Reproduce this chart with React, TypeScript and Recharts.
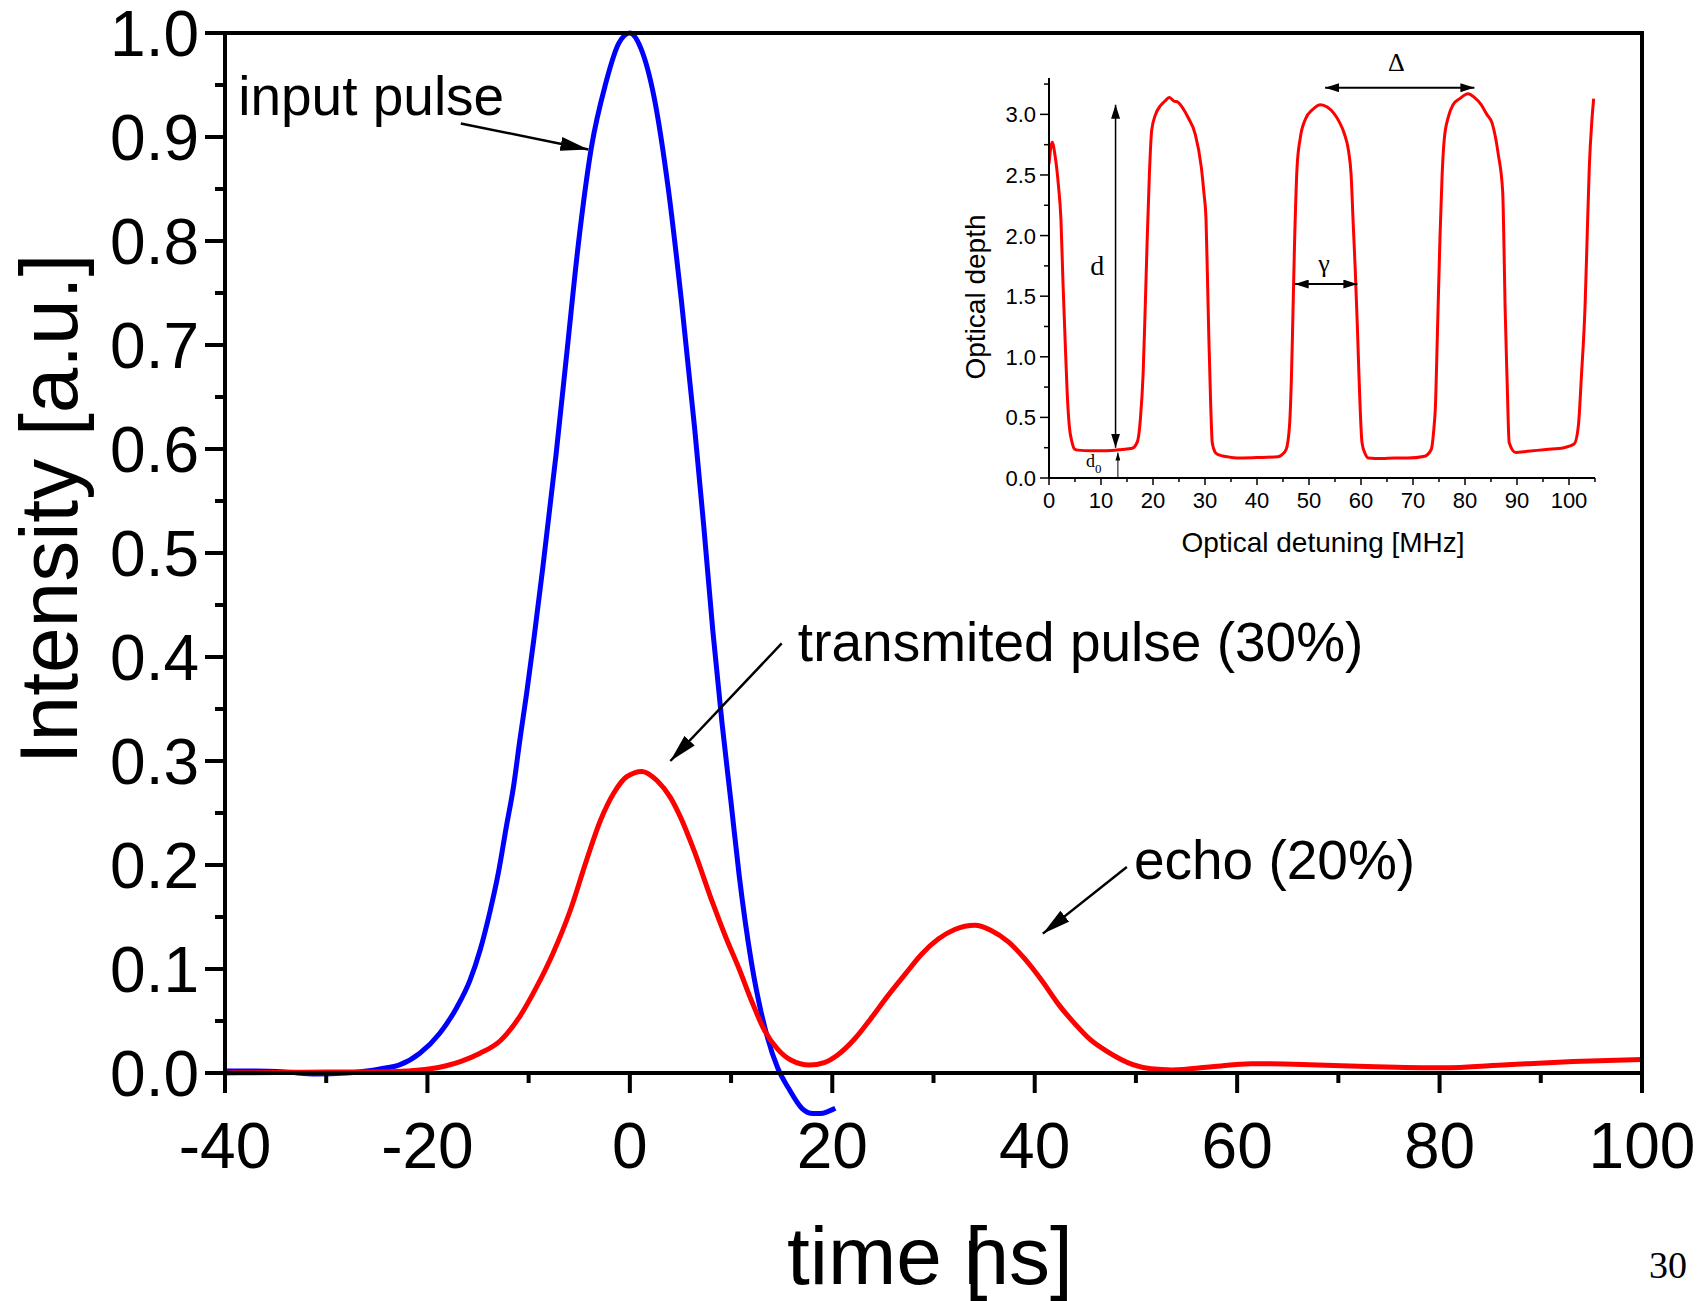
import React from 'react';
import { LineChart, Line, XAxis, YAxis, ReferenceLine, ReferenceDot } from 'recharts';

const SANS = '"Liberation Sans", Arial, sans-serif';
const SERIF = '"Liberation Serif", "Times New Roman", serif';

// main plot: [time ns, intensity]
const inputPulse: [number, number][] = [
  [-40, 0.002], [-37, 0.002], [-34, 0.001], [-31, -0.001], [-28, 0.0], [-26, 0.002],
  [-24.7, 0.004], [-22.7, 0.008], [-20.75, 0.019], [-18.8, 0.038], [-17.1, 0.063], [-15.8, 0.089],
  [-14.8, 0.118], [-13.8, 0.156], [-13.0, 0.192], [-12.2, 0.237], [-11.5, 0.275], [-10.87, 0.32],
  [-10.2, 0.365], [-9.5, 0.416], [-8.6, 0.486], [-7.3, 0.594], [-6.2, 0.695], [-5.1, 0.796],
  [-3.8, 0.89], [-2.4, 0.951], [-1.1, 0.99], [0, 1.0], [1.1, 0.985], [2.4, 0.938],
  [3.8, 0.85], [5.1, 0.742], [6.4, 0.62], [7.3, 0.526], [8.2, 0.425], [9.1, 0.337],
  [10, 0.26], [10.8, 0.19], [12.0, 0.107], [13.6, 0.034], [14.6, 0.005], [15.7, -0.015],
  [17, -0.034], [18.1, -0.039], [18.8, -0.039], [19.6, -0.037], [20.3, -0.034],
];

const transmitted: [number, number][] = [
  [-40, 0.0], [-35, 0.0005], [-30, 0.001], [-25, 0.001], [-22, 0.002], [-19.7, 0.004],
  [-16.75, 0.011], [-14.8, 0.019], [-12.8, 0.031], [-10.9, 0.054], [-9.2, 0.083], [-7.6, 0.115],
  [-5.9, 0.156], [-4.3, 0.204], [-2.9, 0.243], [-1.6, 0.269], [-0.3, 0.285], [1.2, 0.29],
  [2.7, 0.281], [4.0, 0.265], [5.0, 0.246], [6.3, 0.215], [8.2, 0.163], [9.5, 0.13],
  [10.8, 0.1], [12.0, 0.07], [13.3, 0.041], [14.6, 0.023], [15.9, 0.0125], [17.75, 0.0077],
  [19.2, 0.01], [20.56, 0.0176], [22.2, 0.0327], [23.9, 0.0535], [25.5, 0.0744], [27.2, 0.095],
  [28.8, 0.114], [30.5, 0.129], [32.1, 0.138], [34.1, 0.142], [35.7, 0.137], [37.4, 0.126],
  [39.0, 0.11], [40.7, 0.089], [42.35, 0.066], [44.0, 0.047], [45.5, 0.032], [47.1, 0.021],
  [49.7, 0.008], [51.5, 0.004], [53.6, 0.003], [57.5, 0.006], [61.4, 0.009], [67.2, 0.008],
  [73.7, 0.006], [80.2, 0.005], [86.7, 0.008], [93.2, 0.011], [100, 0.013],
];

// inset: [detuning MHz, optical depth]
const opticalDepth: [number, number][] = [
  [0, 2.59], [0.6, 2.77], [1.2, 2.65], [1.8, 2.42], [2.3, 2.13], [2.7, 1.6], [3.1, 1.14],
  [3.5, 0.7], [3.9, 0.43], [4.4, 0.3], [4.9, 0.24], [5.6, 0.23], [8, 0.225], [11, 0.225],
  [14, 0.235], [16, 0.245], [17, 0.3], [17.6, 0.5], [18.1, 0.86], [18.5, 1.4], [18.9, 1.99],
  [19.3, 2.5], [19.75, 2.87], [20.5, 3.0], [21.4, 3.07], [22.3, 3.11], [23.1, 3.14],
  [24, 3.11], [24.8, 3.1], [25.6, 3.06], [26.8, 2.97], [28.1, 2.84], [29.3, 2.56],
  [29.8, 2.35], [30.2, 2.13], [30.5, 1.6], [30.75, 1.14], [31.1, 0.6], [31.4, 0.29],
  [32, 0.21], [32.7, 0.19], [35, 0.17], [37.25, 0.165], [41, 0.17], [44, 0.175],
  [44.75, 0.19], [45.6, 0.235], [46.25, 0.43], [46.6, 0.8], [46.8, 1.14], [47.2, 1.9],
  [47.7, 2.56], [48.3, 2.8], [49.3, 2.96], [50.7, 3.04], [52.25, 3.08], [53.5, 3.06],
  [54.75, 3.01], [55.8, 2.94], [56.8, 2.84], [57.6, 2.7], [58.1, 2.5], [58.5, 2.1],
  [58.9, 1.71], [59.3, 1.25], [59.6, 0.86], [60.2, 0.29], [60.8, 0.2], [61.4, 0.165],
  [64, 0.16], [66.4, 0.165], [69, 0.165], [72.25, 0.18], [73.5, 0.235], [74, 0.4],
  [74.3, 0.58], [74.7, 1.2], [75.2, 2.0], [75.6, 2.5], [76, 2.79], [76.8, 2.98],
  [77.7, 3.08], [79, 3.13], [80.6, 3.17], [81.8, 3.14], [83.1, 3.08], [84.2, 3.0],
  [85.2, 2.93], [86.4, 2.67], [87.25, 2.36], [87.5, 1.9], [87.7, 1.43], [88.1, 0.8],
  [88.5, 0.29], [89.75, 0.21], [92, 0.22], [95.6, 0.235], [99, 0.25], [101, 0.28],
  [101.8, 0.43], [102.4, 0.85], [103.1, 1.43], [103.5, 2.0], [103.9, 2.56], [104.4, 2.95],
  [104.75, 3.13],
];

const mainXTicks = [-40, -30, -20, -10, 0, 10, 20, 30, 40, 50, 60, 70, 80, 90, 100];
const mainXLabels = [-40, -20, 0, 20, 40, 60, 80, 100];
const mainYTicks = [0, 0.05, 0.1, 0.15, 0.2, 0.25, 0.3, 0.35, 0.4, 0.45, 0.5, 0.55, 0.6, 0.65, 0.7, 0.75, 0.8, 0.85, 0.9, 0.95, 1.0];
const insetXTicks = [0, 5, 10, 15, 20, 25, 30, 35, 40, 45, 50, 55, 60, 65, 70, 75, 80, 85, 90, 95, 100, 105];
const insetYTicks = [0, 0.25, 0.5, 0.75, 1.0, 1.25, 1.5, 1.75, 2.0, 2.25, 2.5, 2.75, 3.0, 3.25];

const toRows = (pts: [number, number][]) => pts.map(([t, v]) => ({ t, v }));
const isMajorY = (v: number, step: number) => Math.abs(v / step - Math.round(v / step)) < 1e-6;

function MainBottomTick({ x, y, payload }: any) {
  const major = mainXLabels.includes(payload.value);
  return (
    <g>
      <line x1={x} x2={x} y1={y} y2={y + (major ? 20 : 10)} stroke="#000" strokeWidth={4} />
      {major && (
        <text x={x} y={y + 95} textAnchor="middle" fontSize={64} fontFamily={SANS} fill="#000">
          {payload.value}
        </text>
      )}
    </g>
  );
}

function MainTopTick({ x, y, payload }: any) {
  const major = mainXLabels.includes(payload.value);
  return <line x1={x} x2={x} y1={y} y2={y + (major ? 20 : 10)} stroke="#000" strokeWidth={4} />;
}

function MainLeftTick({ x, y, payload }: any) {
  const major = isMajorY(payload.value, 0.1);
  return (
    <g>
      <line x1={x - (major ? 20 : 10)} x2={x} y1={y} y2={y} stroke="#000" strokeWidth={4} />
      {major && (
        <text x={x - 26} y={y + 23} textAnchor="end" fontSize={64} fontFamily={SANS} fill="#000">
          {payload.value.toFixed(1)}
        </text>
      )}
    </g>
  );
}

function InsetBottomTick({ x, y, payload }: any) {
  const major = payload.value % 10 === 0;
  return (
    <g>
      <line x1={x} x2={x} y1={y} y2={y + (major ? 7 : 4)} stroke="#000" strokeWidth={1.5} />
      {major && (
        <text x={x} y={y + 30} textAnchor="middle" fontSize={22} fontFamily={SANS} fill="#000">
          {payload.value}
        </text>
      )}
    </g>
  );
}

function InsetLeftTick({ x, y, payload }: any) {
  const major = isMajorY(payload.value, 0.5);
  return (
    <g>
      <line x1={x - (major ? 9 : 5)} x2={x} y1={y} y2={y} stroke="#000" strokeWidth={1.5} />
      {major && (
        <text x={x - 13} y={y + 8} textAnchor="end" fontSize={22} fontFamily={SANS} fill="#000">
          {payload.value.toFixed(1)}
        </text>
      )}
    </g>
  );
}

const note = (text: React.ReactNode, size: number, anchor = 'start', family = SANS) => (p: any) => (
  <text x={p.cx} y={p.cy} fontSize={size} fontFamily={family} textAnchor={anchor} fill="#000">
    {text}
  </text>
);

const arrow = (marker: string, width: number, both = false) => (p: any) => (
  <line
    x1={p.x1}
    y1={p.y1}
    x2={p.x2}
    y2={p.y2}
    stroke="#000"
    strokeWidth={width}
    markerEnd={`url(#${marker})`}
    markerStart={both ? `url(#${marker})` : undefined}
  />
);

function Marker({ id, w, h }: { id: string; w: number; h: number }) {
  return (
    <marker id={id} viewBox="0 0 10 10" refX={10} refY={5} markerWidth={w} markerHeight={h}
      markerUnits="userSpaceOnUse" orient="auto-start-reverse" preserveAspectRatio="none">
      <path d="M0,0 L10,5 L0,10 z" fill="#000" />
    </marker>
  );
}

const frame = { stroke: '#000', strokeWidth: 4, strokeLinecap: 'square' as const };

export default function App() {
  return (
    <div style={{ position: 'absolute', left: 0, top: 0, width: 1707, height: 1301, background: '#fff', overflow: 'hidden' }}>
      <style>{'.main-chart .recharts-line, .main-chart .recharts-line * { clip-path: none !important; }'}</style>
      <svg width={0} height={0} style={{ position: 'absolute' }}>
        <defs>
          <Marker id="ahMain" w={28} h={14} />
          <Marker id="ahInset" w={14} h={9} />
          <Marker id="ahSmall" w={8} h={5} />
        </defs>
      </svg>

      <div className="main-chart" style={{ position: 'absolute', left: 0, top: 0 }}>
        <LineChart width={1707} height={1301} margin={{ top: 0, right: 0, bottom: 0, left: 0 }}>
          <XAxis xAxisId="b" type="number" dataKey="t" domain={[-40, 100]} ticks={mainXTicks} interval={0}
            allowDataOverflow height={228} tickSize={0} tickMargin={0} tickLine={false}
            tick={(p: any) => <MainBottomTick {...p} />} axisLine={frame}
            label={() => (
              <text x={787} y={1284} fontSize={82} fontFamily={SANS} fill="#000">
                time [<tspan dx={-24}>ns]</tspan>
              </text>
            )} />
          <XAxis xAxisId="top" orientation="top" type="number" domain={[-40, 100]} ticks={mainXTicks} interval={0}
            allowDataOverflow height={33} tickSize={0} tickMargin={0} tickLine={false}
            tick={(p: any) => <MainTopTick {...p} />} axisLine={frame} />
          <YAxis yAxisId="l" type="number" domain={[0, 1]} ticks={mainYTicks} interval={0}
            allowDataOverflow width={225} tickSize={0} tickMargin={0} tickLine={false}
            tick={(p: any) => <MainLeftTick {...p} />} axisLine={frame}
            label={() => (
              <text transform="translate(77, 509) rotate(-90)" textAnchor="middle" fontSize={82} fontFamily={SANS} fill="#000">
                Intensity [a.u.]
              </text>
            )} />
          <YAxis yAxisId="r" orientation="right" type="number" domain={[0, 1]} allowDataOverflow width={65}
            tick={false} tickLine={false} axisLine={frame} />

          <Line xAxisId="b" yAxisId="l" data={toRows(inputPulse)} dataKey="v" type="monotone"
            stroke="#0000ff" strokeWidth={5} dot={false} isAnimationActive={false} />
          <Line xAxisId="b" yAxisId="l" data={toRows(transmitted)} dataKey="v" type="monotone"
            stroke="#ff0000" strokeWidth={5} dot={false} isAnimationActive={false} />

          <ReferenceLine xAxisId="b" yAxisId="l" segment={[{ x: -16.7, y: 0.913 }, { x: -4.1, y: 0.888 }]}
            ifOverflow="visible" shape={arrow('ahMain', 2.5)} />
          <ReferenceLine xAxisId="b" yAxisId="l" segment={[{ x: 15.0, y: 0.413 }, { x: 4.0, y: 0.3 }]}
            ifOverflow="visible" shape={arrow('ahMain', 2.5)} />
          <ReferenceLine xAxisId="b" yAxisId="l" segment={[{ x: 49.1, y: 0.198 }, { x: 40.8, y: 0.134 }]}
            ifOverflow="visible" shape={arrow('ahMain', 2.5)} />
          <ReferenceDot xAxisId="b" yAxisId="l" x={-38.7} y={0.921} ifOverflow="visible" shape={note('input pulse', 55)} />
          <ReferenceDot xAxisId="b" yAxisId="l" x={16.6} y={0.396} ifOverflow="visible" shape={note('transmited pulse (30%)', 55)} />
          <ReferenceDot xAxisId="b" yAxisId="l" x={49.8} y={0.187} ifOverflow="visible" shape={note('echo (20%)', 55)} />
        </LineChart>
      </div>

      <div style={{ position: 'absolute', left: 860, top: 40 }}>
        <LineChart width={760} height={540} margin={{ top: 38, right: 25, bottom: 0, left: 0 }}>
          <XAxis type="number" dataKey="t" domain={[0, 105]} ticks={insetXTicks} interval={0}
            allowDataOverflow height={102} tickSize={0} tickMargin={0} tickLine={false}
            tick={(p: any) => <InsetBottomTick {...p} />} axisLine={{ stroke: '#000', strokeWidth: 2 }}
            label={() => (
              <text x={463} y={512} textAnchor="middle" fontSize={28} fontFamily={SANS} fill="#000">
                Optical detuning [MHz]
              </text>
            )} />
          <YAxis type="number" domain={[0, 3.3]} ticks={insetYTicks} interval={0}
            allowDataOverflow width={189} tickSize={0} tickMargin={0} tickLine={false}
            tick={(p: any) => <InsetLeftTick {...p} />} axisLine={{ stroke: '#000', strokeWidth: 2 }}
            label={() => (
              <text transform="translate(125, 257) rotate(-90)" textAnchor="middle" fontSize={28} fontFamily={SANS} fill="#000">
                Optical depth
              </text>
            )} />
          <Line data={toRows(opticalDepth)} dataKey="v" type="monotone" stroke="#ff0000" strokeWidth={3}
            dot={false} isAnimationActive={false} />

          <ReferenceLine segment={[{ x: 53.1, y: 3.22 }, { x: 81.8, y: 3.22 }]} ifOverflow="visible"
            shape={arrow('ahInset', 2, true)} />
          <ReferenceLine segment={[{ x: 12.8, y: 3.08 }, { x: 12.8, y: 0.25 }]} ifOverflow="visible"
            shape={arrow('ahInset', 1.5, true)} />
          <ReferenceLine segment={[{ x: 47.25, y: 1.6 }, { x: 59.3, y: 1.6 }]} ifOverflow="visible"
            shape={arrow('ahInset', 2, true)} />
          <ReferenceLine segment={[{ x: 13.25, y: 0 }, { x: 13.25, y: 0.21 }]} ifOverflow="visible"
            shape={arrow('ahSmall', 1)} />
          <ReferenceDot x={66.8} y={3.36} ifOverflow="visible" shape={note('Δ', 26, 'middle', SERIF)} />
          <ReferenceDot x={9.3} y={1.675} ifOverflow="visible" shape={note('d', 28, 'middle', SERIF)} />
          <ReferenceDot x={52.9} y={1.7} ifOverflow="visible" shape={note('γ', 26, 'middle', SERIF)} />
          <ReferenceDot x={8.6} y={0.094} ifOverflow="visible"
            shape={note(<>d<tspan fontSize={13} dy={6}>0</tspan></>, 18, 'middle', SERIF)} />
        </LineChart>
      </div>

      <svg width={1707} height={1301} style={{ position: 'absolute', left: 0, top: 0, pointerEvents: 'none' }}>
        <text x={1649} y={1278} fontSize={38} fontFamily={SERIF} fill="#000">30</text>
      </svg>
    </div>
  );
}
